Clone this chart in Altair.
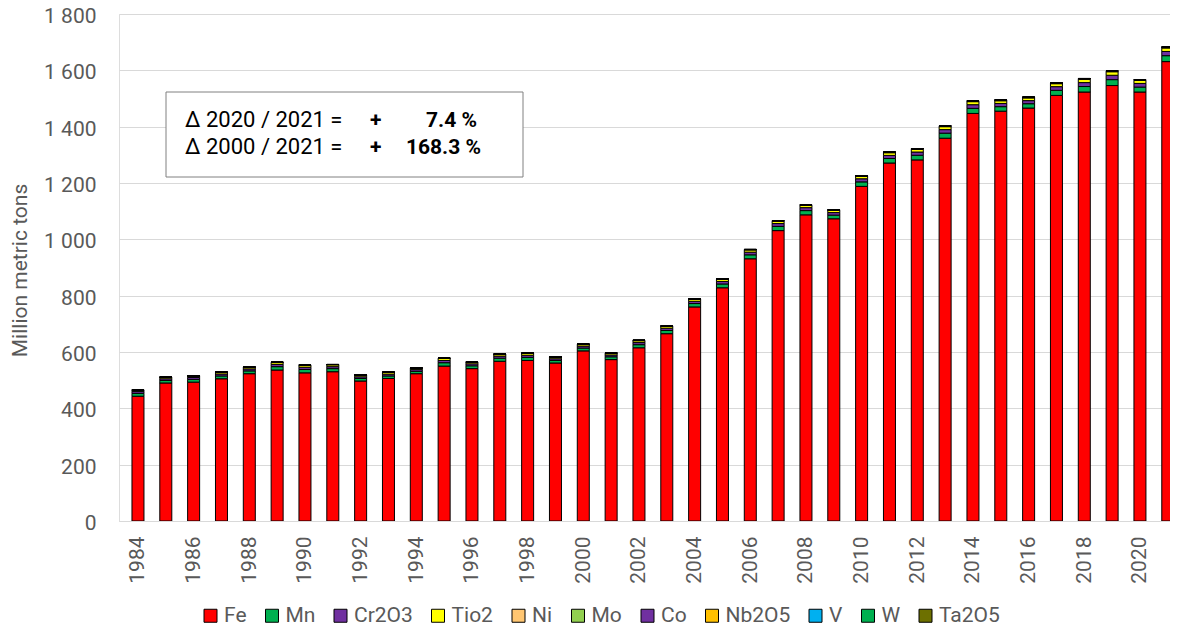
import altair as alt
import pandas as pd

years = list(range(1984, 2022))
series_names = ["Fe", "Mn", "Cr2O3", "Tio2", "Ni", "Mo", "Co", "Nb2O5", "V", "W", "Ta2O5"]
series_colors = ["#FF0000", "#00B050", "#7030A0", "#FFFF00", "#FFC672", "#92D050",
                 "#7030A0", "#FFC000", "#00B0F0", "#00B050", "#6D7000"]

fe = [443, 490, 493, 505, 523, 536, 526, 530, 497, 506, 523, 550, 541, 567, 570, 561,
      604, 573, 615, 665, 760, 828, 931, 1031, 1087, 1073, 1188, 1271, 1282, 1359,
      1447, 1455, 1466, 1511, 1523, 1546, 1523, 1631]
mn = [10, 9, 10, 10, 10, 12, 12, 11, 9, 9, 8.5, 12, 10, 11, 11, 9, 10, 10, 11, 11.5,
      12, 13.5, 14, 15, 15, 13, 16, 16, 16.5, 18, 18, 16, 15.5, 18, 19.5, 21, 17.5, 21]
cr2o3 = [6.5, 6, 6.5, 7, 7, 8, 8, 7, 6, 6.5, 6, 8, 7, 7.5, 7.5, 6, 7, 6.5, 7.5, 8,
         8, 9, 9.5, 10, 10.5, 9, 11, 11, 11.5, 12.5, 13, 11.5, 11, 13, 14, 15.5, 13, 15]
tio2 = [5.5, 5, 5.5, 5.8, 5.8, 6.5, 7, 6.5, 5.6, 6, 5, 7, 5.5, 6, 6.5, 5.5, 5.5, 5.8,
        6.5, 6.5, 6.8, 7.8, 7.7, 8.5, 8.3, 7.9, 8.8, 9.5, 9.6, 10.5, 10.8, 9.5, 9.5,
        10.6, 11.6, 12.5, 10.7, 12.4]
ni = [0.8, 0.8, 0.8, 0.9, 0.9, 1.0, 1.0, 1.0, 0.9, 0.9, 0.95, 1.0, 1.05, 1.1, 1.15,
      1.15, 1.25, 1.3, 1.3, 1.35, 1.4, 1.45, 1.55, 1.65, 1.6, 1.4, 1.6, 1.8, 2.1, 2.4,
      2.4, 2.2, 2.2, 2.2, 2.3, 2.6, 2.5, 2.7]
mo = [0.10, 0.10, 0.10, 0.10, 0.11, 0.11, 0.11, 0.11, 0.11, 0.10, 0.11, 0.13, 0.13,
      0.14, 0.14, 0.13, 0.13, 0.13, 0.13, 0.13, 0.14, 0.18, 0.18, 0.21, 0.22, 0.22,
      0.24, 0.26, 0.26, 0.27, 0.28, 0.27, 0.28, 0.29, 0.30, 0.30, 0.30, 0.30]
co = [0.03, 0.03, 0.03, 0.03, 0.03, 0.04, 0.04, 0.04, 0.03, 0.02, 0.02, 0.02, 0.02,
      0.03, 0.03, 0.03, 0.03, 0.04, 0.04, 0.05, 0.05, 0.06, 0.06, 0.06, 0.07, 0.07,
      0.09, 0.11, 0.11, 0.12, 0.12, 0.12, 0.11, 0.12, 0.14, 0.15, 0.14, 0.17]
nb2o5 = [0.02, 0.02, 0.02, 0.02, 0.02, 0.02, 0.02, 0.02, 0.02, 0.02, 0.02, 0.02, 0.02,
         0.03, 0.03, 0.03, 0.03, 0.04, 0.04, 0.04, 0.05, 0.05, 0.07, 0.07, 0.08, 0.08,
         0.09, 0.09, 0.10, 0.09, 0.08, 0.08, 0.09, 0.09, 0.10, 0.10, 0.10, 0.11]
v = [0.03, 0.03, 0.03, 0.03, 0.03, 0.03, 0.03, 0.03, 0.03, 0.03, 0.03, 0.03, 0.04,
     0.04, 0.04, 0.04, 0.04, 0.04, 0.05, 0.05, 0.05, 0.06, 0.06, 0.06, 0.06, 0.06,
     0.07, 0.07, 0.07, 0.08, 0.08, 0.08, 0.08, 0.08, 0.09, 0.10, 0.11, 0.11]
w = [0.05, 0.05, 0.05, 0.05, 0.05, 0.05, 0.05, 0.04, 0.03, 0.03, 0.03, 0.03, 0.03,
     0.03, 0.03, 0.03, 0.04, 0.05, 0.06, 0.06, 0.06, 0.06, 0.06, 0.06, 0.07, 0.06,
     0.07, 0.07, 0.07, 0.07, 0.08, 0.09, 0.09, 0.08, 0.08, 0.08, 0.08, 0.08]
ta2o5 = [0.001, 0.001, 0.001, 0.001, 0.001, 0.001, 0.001, 0.001, 0.001, 0.001, 0.001,
         0.001, 0.001, 0.001, 0.001, 0.001, 0.001, 0.001, 0.001, 0.001, 0.001, 0.001,
         0.001, 0.001, 0.001, 0.001, 0.001, 0.002, 0.002, 0.002, 0.002, 0.002, 0.002,
         0.002, 0.002, 0.002, 0.002, 0.002]

series_values = [fe, mn, cr2o3, tio2, ni, mo, co, nb2o5, v, w, ta2o5]
x_tick_years = list(range(1984, 2021, 2))
y_ticks = list(range(0, 1801, 200))

note_line1 = "Δ 2020 / 2021 ="
note_line2 = "Δ 2000 / 2021 ="
note_sign = "+"
note_val1 = "7.4 %"
note_val2 = "168.3 %"

rows = []
for idx, (name, vals) in enumerate(zip(series_names, series_values)):
    for yr, val in zip(years, vals):
        rows.append({"year": yr, "mineral": name, "idx": idx, "value": val})
df = pd.DataFrame(rows)

FONT = "Roboto"
GRAY = "#595959"

bars = alt.Chart(df).mark_bar(size=12, stroke="black", strokeWidth=1, clip=True).encode(
    x=alt.X("year:Q",
            scale=alt.Scale(domain=[1983.498, 2020.90], nice=False, zero=False),
            axis=alt.Axis(values=x_tick_years, format="d", labelAngle=270,
                          labelAlign="right", labelBaseline="middle", labelPadding=15,
                          labelFlush=False, labelOverlap=False, ticks=False, grid=False,
                          domainColor="#D9D9D9", domainWidth=1,
                          labelFontSize=21, labelColor=GRAY, labelFont=FONT, title=None)),
    y=alt.Y("value:Q", stack="zero",
            scale=alt.Scale(domain=[0, 1800], nice=False),
            axis=alt.Axis(values=y_ticks,
                          labelExpr="replace(format(datum.value, ','), ',', ' ')",
                          ticks=False, domain=False, gridColor="#D9D9D9", gridWidth=1,
                          labelPadding=23, labelFontSize=21, labelColor=GRAY,
                          labelFont=FONT, labelOffset=2.5, title="Million metric tons",
                          titleFont=FONT, titleFontSize=21, titleFontWeight="normal",
                          titleColor=GRAY, titleAngle=270, titleX=-99, titleY=256,
                          titleAlign="center", titleBaseline="middle")),
    color=alt.Color("mineral:N",
                    scale=alt.Scale(domain=series_names, range=series_colors),
                    legend=alt.Legend(orient="none", legendX=81, legendY=591,
                                      direction="horizontal", columns=11, title=None,
                                      padding=0,
                                      symbolType="square", symbolSize=169,
                                      symbolStrokeColor="black", symbolStrokeWidth=1,
                                      labelFontSize=21, labelFont=FONT, labelColor=GRAY,
                                      labelOffset=3, columnPadding=14.5)),
    order=alt.Order("idx:Q", sort="ascending"),
)

one = pd.DataFrame({"k": [0]})

box = alt.Chart(one).mark_rect(fill="white", stroke="#808080", strokeWidth=1).encode(
    x=alt.value(47), x2=alt.value(404), y=alt.value(78), y2=alt.value(163))

def txt(s, x, y, align="left", bold=False, size=21):
    return alt.Chart(one).mark_text(text=s, align=align, baseline="alphabetic",
                                    font=FONT, fontSize=size, color="black",
                                    fontWeight="bold" if bold else "normal").encode(
        x=alt.value(x), y=alt.value(y))

t1 = txt(note_line1, 66, 113, size=22)
t2 = txt(note_line2, 66, 140, size=22)
s1 = txt(note_sign, 251, 113, bold=True)
s2 = txt(note_sign, 251, 140, bold=True)
v1 = txt(note_val1, 358, 113, align="right", bold=True)
v2 = txt(note_val2, 362, 140, align="right", bold=True)

chart = alt.layer(bars, box, t1, t2, s1, s2, v1, v2).properties(
    width=1051, height=507,
    autosize=alt.AutoSizeParams(type="none"),
    padding={"left": 111, "top": 6, "right": 0, "bottom": 108},
    background="white",
).configure_view(stroke=None).configure(font=FONT)

chart.save("out.html", embed_options={"renderer": "svg", "actions": False})
